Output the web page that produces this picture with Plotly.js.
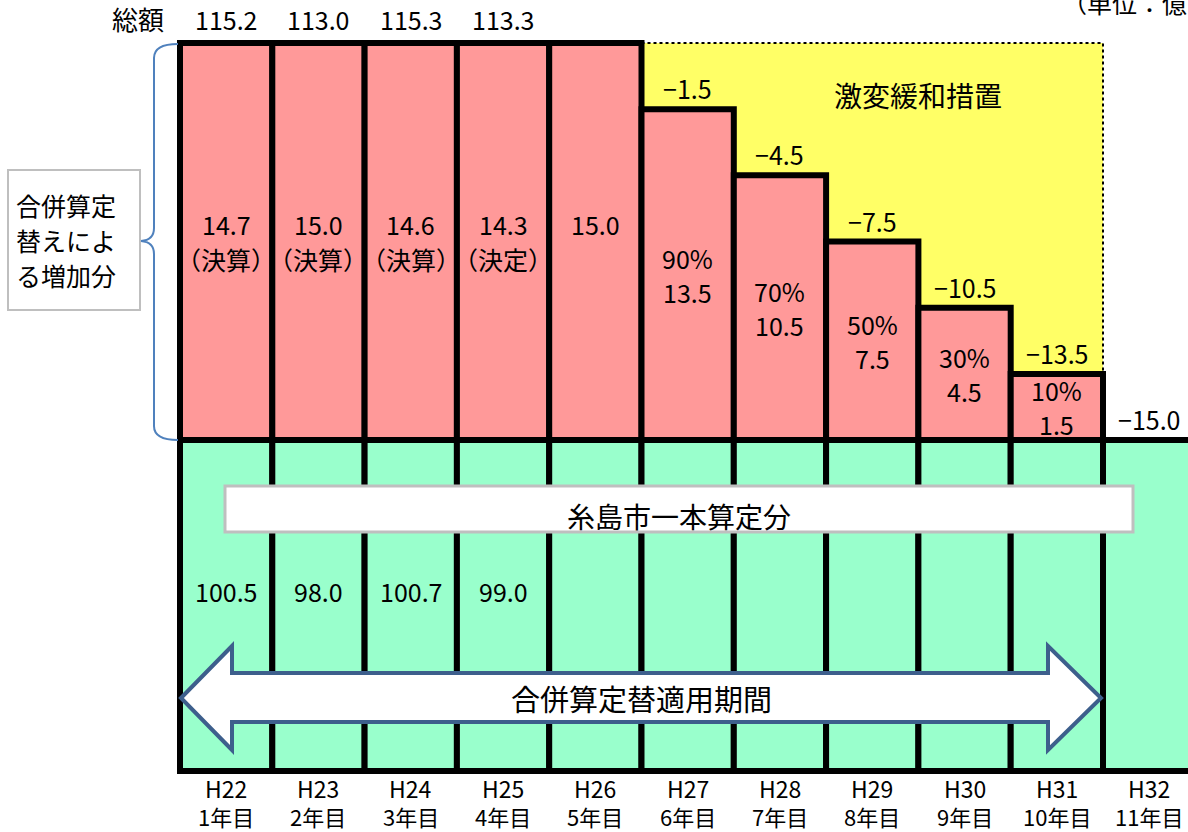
<!DOCTYPE html>
<html>
<head>
<meta charset="utf-8">
<script src="https://cdn.plot.ly/plotly-3.0.1.min.js"></script>
<style>html,body{margin:0;padding:0;background:#fff;}#chart{width:1188px;height:832px;}</style>
</head>
<body>
<div id="chart"></div>
<script>
// ---- data ----
const categories = ['H22','H23','H24','H25','H26','H27','H28','H29','H30','H31','H32'];
const yearLabels = ['1年目','2年目','3年目','4年目','5年目','6年目','7年目','8年目','9年目','10年目','11年目'];
const totalAmount = [115.2, 113.0, 115.3, 113.3];
const mergerIncrease = [14.7, 15.0, 14.6, 14.3, 15.0, 13.5, 10.5, 7.5, 4.5, 1.5, null];
const increaseBasis = ['（決算）','（決算）','（決算）','（決定）', null, null, null, null, null, null, null];
const retentionRate = [null, null, null, null, null, 90, 70, 50, 30, 10, null];
const reductionAmount = [null, null, null, null, null, -1.5, -4.5, -7.5, -10.5, -13.5, -15.0];
const unifiedAmount = [100.5, 98.0, 100.7, 99.0];
// schematic (not-to-scale) heights used by the original diagram
const increaseLevel = [6, 6, 6, 6, 6, 5, 4, 3, 2, 1, 0];
const unifiedLevel = [5, 5, 5, 5, 5, 5, 5, 5, 5, 5, 5];
const fullIncreaseLevel = 6;

// ---- styles ----
const FONT = '"Noto Sans CJK JP", "Noto Sans", sans-serif';
const PINK = '#ff9999', GREEN = '#99ffcc', YELLOW = '#ffff66';
const PL = 176, PR = 1188, PT = 38, PB = 775;
const PW = PR - PL, PH = PB - PT;
const px2x = p => (p - PL) / PW;
const py2y = p => (PB - p) / PH;
const P = (x, y) => px2x(x).toFixed(5) + ',' + py2y(y).toFixed(5);
const fmt = v => v.toFixed(1).replace('-', '−');

const idx = categories.map((c, i) => i);
const topLevel = unifiedLevel[0] + fullIncreaseLevel;

// yellow (mitigation) bars
const yX = [], yBase = [], yH = [];
idx.forEach(i => {
  if (reductionAmount[i] !== null && increaseLevel[i] > 0) {
    yX.push(i); yBase.push(unifiedLevel[i] + increaseLevel[i]); yH.push(fullIncreaseLevel - increaseLevel[i]);
  }
});
const yFirst = yX[0], yLast = yX[yX.length - 1];

const traces = [
  { type: 'bar', x: yX, y: yH, base: yBase, width: 1,
    marker: { color: YELLOW, line: { width: 0 } }, hoverinfo: 'skip' },
  { type: 'scatter', mode: 'lines', cliponaxis: false,
    x: [yFirst - 0.5, yLast + 0.5, yLast + 0.5],
    y: [topLevel, topLevel, unifiedLevel[yLast] + increaseLevel[yLast]],
    line: { color: '#000', width: 2, dash: 'dot' }, hoverinfo: 'skip' },
  { type: 'bar', x: idx, y: unifiedLevel, base: 0, width: 1,
    marker: { color: GREEN, line: { color: '#000', width: 6 } }, hoverinfo: 'skip' },
  { type: 'bar', x: idx, y: increaseLevel, base: unifiedLevel, width: 1,
    marker: { color: PINK, line: { color: '#000', width: 6 } }, hoverinfo: 'skip' }
];

const ann = [];
const A = (o, size) => ann.push(Object.assign({ showarrow: false, xanchor: 'center', yanchor: 'middle',
  font: { family: FONT, size: size || 25, color: '#000' } }, o));

// totals
A({ xref: 'paper', yref: 'y', x: px2x(138), y: topLevel, yanchor: 'bottom', yshift: 4, text: '総額' }, 26);
totalAmount.forEach((v, i) => A({ x: i, y: topLevel, yanchor: 'bottom', yshift: 4, text: fmt(v) }));

// pink texts
idx.forEach(i => {
  if (mergerIncrease[i] === null) return;
  const mid = unifiedLevel[i] + increaseLevel[i] / 2;
  if (retentionRate[i] !== null) {
    A({ x: i, y: mid, yshift: 17, text: retentionRate[i] + '%' });
    A({ x: i, y: mid, yshift: -17, text: fmt(mergerIncrease[i]) });
  } else if (increaseBasis[i]) {
    A({ x: i, y: mid, yshift: 18, text: fmt(mergerIncrease[i]) });
    A({ x: i, y: mid, yshift: -17, text: increaseBasis[i] });
  } else {
    A({ x: i, y: mid, yshift: 18, text: fmt(mergerIncrease[i]) });
  }
});
// reduction labels
idx.forEach(i => {
  if (reductionAmount[i] === null) return;
  A({ x: i, y: unifiedLevel[i] + increaseLevel[i], yanchor: 'bottom', yshift: 1, text: fmt(reductionAmount[i]) });
});
// green values
unifiedAmount.forEach((v, i) => A({ x: i, y: unifiedLevel[i] / 2, yshift: 15, text: fmt(v) }));

// axis labels (two lines)
idx.forEach(i => {
  A({ x: i, yref: 'paper', y: py2y(788), text: categories[i] }, 23);
  A({ x: i, yref: 'paper', y: py2y(816), text: yearLabels[i] }, 22);
});

// decorative texts
A({ xref: 'paper', yref: 'paper', x: px2x(918), y: py2y(95), text: '激変緩和措置' }, 28);
A({ xref: 'paper', yref: 'paper', x: px2x(679), y: py2y(516), text: '糸島市一本算定分' }, 28);
A({ xref: 'paper', yref: 'paper', x: px2x(641), y: py2y(698), text: '合併算定替適用期間' }, 29);
['合併算定', '替えによ', 'る増加分'].forEach((t, k) =>
  A({ xref: 'paper', yref: 'paper', xanchor: 'left', x: px2x(14), y: py2y(205 + 35 * k), text: t }, 25));
A({ xref: 'paper', yref: 'paper', xanchor: 'left', x: px2x(1060), y: py2y(2), text: '（単位：億円）' }, 25);

const shapes = [
  { type: 'rect', xref: 'paper', yref: 'paper', x0: px2x(8), x1: px2x(140), y0: py2y(310), y1: py2y(170),
    line: { color: '#bfbfbf', width: 2 }, fillcolor: '#fff', layer: 'below' },
  { type: 'path', xref: 'paper', yref: 'paper',
    path: 'M' + P(178, 44) + ' Q' + P(154, 44) + ' ' + P(154, 58) + ' L' + P(154, 228) + ' Q' + P(154, 240) + ' ' + P(141, 241) +
          ' Q' + P(154, 242) + ' ' + P(154, 254) + ' L' + P(154, 426) + ' Q' + P(154, 440) + ' ' + P(178, 440),
    line: { color: '#4f81bd', width: 2 } },
  { type: 'rect', xref: 'paper', yref: 'paper', x0: px2x(225), x1: px2x(1133), y0: py2y(532), y1: py2y(486),
    line: { color: '#bfbfbf', width: 3 }, fillcolor: '#fff' },
  { type: 'path', xref: 'paper', yref: 'paper',
    path: 'M' + P(181, 698) + ' L' + P(232, 646) + ' L' + P(232, 673) + ' L' + P(1048, 673) + ' L' + P(1048, 646) +
          ' L' + P(1101, 698) + ' L' + P(1048, 750) + ' L' + P(1048, 722) + ' L' + P(232, 722) + ' L' + P(232, 750) + ' Z',
    line: { color: '#3d5f8c', width: 4 }, fillcolor: '#fff' }
];

const xmin = -0.5 - 4 / 92.3;
const xmax = -0.5 + (PR - 180) / 92.3;
const ppu = 728 / 11;
const layout = {
  width: 1188, height: 832,
  margin: { l: PL, r: 0, t: PT, b: 832 - PB, pad: 0 },
  paper_bgcolor: '#fff', plot_bgcolor: '#fff',
  showlegend: false, barmode: 'overlay', bargap: 0,
  font: { family: FONT, color: '#000' },
  xaxis: { range: [xmin, xmax], tickvals: idx, showticklabels: false, showgrid: false, zeroline: false, showline: false,
           ticks: '', automargin: false, fixedrange: true },
  yaxis: { range: [-(PB - 771) / ppu, 11 + (43 - PT) / ppu], visible: false, showgrid: false, zeroline: false, fixedrange: true },
  annotations: ann,
  shapes: shapes
};

Plotly.newPlot('chart', traces, layout, { displayModeBar: false, staticPlot: true });
</script>
</body>
</html>
